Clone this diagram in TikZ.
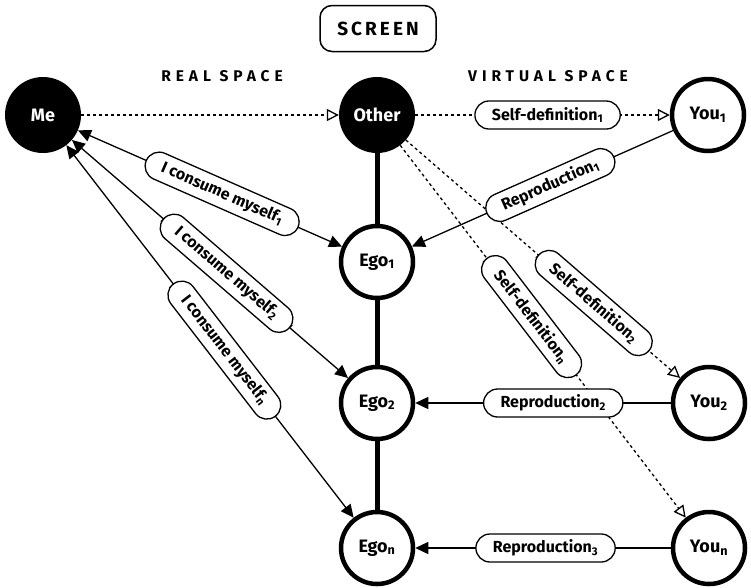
\documentclass[tikz,border=0pt]{standalone}
\usepackage{fontspec}
\setmainfont{Fira Sans}
\usetikzlibrary{arrows.meta}
\newcommand{\idx}[1]{\textsubscript{#1}}
\begin{document}
\begin{tikzpicture}[x=1pt,y=-1pt,
  dark/.style={circle,fill=black,text=white,minimum size=76pt,inner sep=0pt,
    font=\bfseries\fontsize{18}{21}\selectfont},
  light/.style={circle,draw,line width=4.5pt,fill=white,minimum size=72pt,inner sep=0pt,
    font=\bfseries\fontsize{18}{21}\selectfont},
  pill/.style={draw,solid,line width=1.3pt,rounded corners=14pt,fill=white,minimum height=28pt,
    inner xsep=17pt,inner ysep=2pt,font=\bfseries\fontsize{16}{19}\selectfont},
  titlebox/.style={draw,line width=1.5pt,rounded corners=12pt,minimum width=116pt,minimum height=46pt,
    font=\bfseries\fontsize{19}{22}\selectfont\addfontfeature{LetterSpace=16}},
  heading/.style={font=\bfseries\fontsize{15.5}{18}\selectfont\addfontfeature{LetterSpace=32}},
  spine/.style={line width=5pt},
  dotarrow/.style={line width=1.3pt,dash pattern=on 3pt off 3pt,
    -{Triangle[open,length=12pt,width=12pt,line width=1.3pt]}},
  solidarrow/.style={line width=1.3pt,-{Triangle[length=13pt,width=12pt]}},
  twoway/.style={line width=1.3pt,{Triangle[length=13pt,width=12pt]}-{Triangle[length=13pt,width=12pt]}}
]
\useasboundingbox (0,0) rectangle (751,587);

% titles
\node[titlebox] (screen) at (378,28.5) {SCREEN};
\node[heading] (real) at (222,76) {REAL SPACE};
\node[heading] (virtual) at (548,76) {VIRTUAL SPACE};

% actors
\node[dark] (me) at (43,115) {Me};
\node[dark] (other) at (377,115) {Other};
\node[light] (you1) at (708,115) {You\idx{1}};
\node[light] (ego1) at (377,262) {Ego\idx{1}};
\node[light] (ego2) at (377,403) {Ego\idx{2}};
\node[light] (egon) at (377,548) {Ego\idx{n}};
\node[light] (you2) at (709,403) {You\idx{2}};
\node[light] (youn) at (709,548) {You\idx{n}};

% vertical chain of egos
\draw[spine] (other) -- (ego1);
\draw[spine] (ego1) -- (ego2);
\draw[spine] (ego2) -- (egon);

% self-definition links
\draw[dotarrow] (me) -- (other);
\draw[dotarrow] (other) -- node[pill,pos=0.52] (sd1) {Self-definition\idx{1}} (you1);
\draw[dotarrow] (other) -- node[pill,sloped,pos=0.685] (sd2) {Self-definition\idx{2}} (you2);
\draw[dotarrow] (other) -- node[pill,sloped,pos=0.46] (sdn) {Self-definition\idx{n}} (youn);

% reproduction links
\draw[solidarrow] (you1) -- node[pill,sloped,pos=0.47] (rp1) {Reproduction\idx{1}} (ego1);
\draw[solidarrow] (you2) -- node[pill,pos=0.46] (rp2) {Reproduction\idx{2}} (ego2);
\draw[solidarrow] (youn) -- node[pill,pos=0.49] (rp3) {Reproduction\idx{3}} (egon);

% consumption links
\draw[twoway] (me) -- node[pill,sloped,pos=0.546] (cm1) {I consume myself\idx{1}} (ego1);
\draw[twoway] (me) -- node[pill,sloped,pos=0.56] (cm2) {I consume myself\idx{2}} (ego2);
\draw[twoway] (me) -- node[pill,sloped,pos=0.55] (cmn) {I consume myself\idx{n}} (egon);
\end{tikzpicture}
\end{document}
